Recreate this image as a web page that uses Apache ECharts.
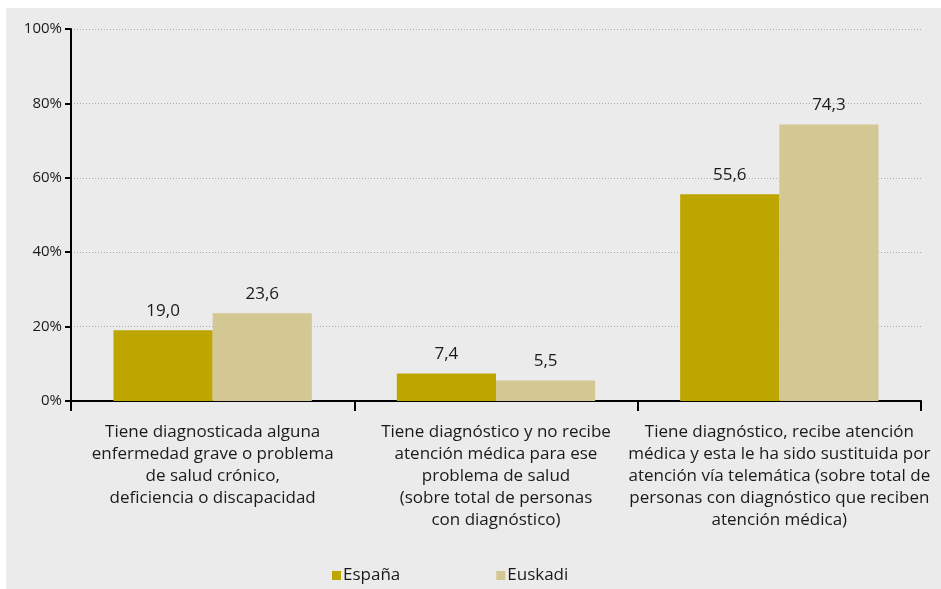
<!DOCTYPE html>
<html>
<head>
<meta charset="utf-8">
<script src="https://cdn.jsdelivr.net/npm/echarts@6/dist/echarts.min.js"></script>
<style>
  html, body { margin: 0; padding: 0; background: #fff; }
  #chart { width: 941px; height: 589px; }
</style>
</head>
<body>
<div id="chart"></div>
<script>
// categorías y valores (%)
const categories = [
  'Tiene diagnosticada alguna\nenfermedad grave o problema\nde salud crónico,\ndeficiencia o discapacidad',
  'Tiene diagnóstico y no recibe\natención médica para ese\nproblema de salud\n(sobre total de personas\ncon diagnóstico)',
  'Tiene diagnóstico, recibe atención\nmédica y esta le ha sido sustituida por\natención vía telemática (sobre total de\npersonas con diagnóstico que reciben\natención médica)',
];
const espana = [19.0, 7.4, 55.6];
const euskadi = [23.6, 5.5, 74.3];
const yTicks = [0, 20, 40, 60, 80, 100];

const font = '"Open Sans", Lato, sans-serif';
const textColor = '#1a1a1a';

const myChart = echarts.init(document.getElementById('chart'));

const labelStyle = {
  show: true,
  position: 'top',
  distance: 11,
  color: textColor,
  fontFamily: font,
  fontSize: 17,
  formatter: p => p.value.toFixed(1).replace('.', ','),
};

myChart.setOption({
  backgroundColor: '#fff',
  animation: false,
  graphic: [
    {
      type: 'rect',
      left: 6,
      top: 8,
      shape: { width: 935, height: 581 },
      style: { fill: '#ebebeb' },
      z: -10,
    },
  ],
  grid: {
    left: 71,
    right: 20,
    top: 29,
    bottom: 188,
    containLabel: false,
  },
  legend: {
    top: 562,
    left: 327,
    itemWidth: 9,
    itemHeight: 9,
    itemGap: 96,
    icon: 'rect',
    textStyle: {
      color: textColor,
      fontFamily: font,
      fontSize: 17,
      padding: [0, 0, 0, -3],
    },
    data: ['España', 'Euskadi'],
  },
  xAxis: {
    type: 'category',
    data: categories,
    axisLine: { lineStyle: { color: '#000', width: 2 } },
    axisTick: { show: true, length: 10, lineStyle: { color: '#000', width: 2 } },
    axisLabel: {
      color: textColor,
      fontFamily: font,
      fontSize: 17,
      lineHeight: 22,
      margin: 20,
      align: 'center',
      interval: 0,
    },
  },
  yAxis: {
    type: 'value',
    min: 0,
    max: 100,
    interval: 20,
    axisLine: { show: true, lineStyle: { color: '#000', width: 2 } },
    axisTick: { show: true, length: 6, lineStyle: { color: '#000', width: 2 } },
    axisLabel: {
      color: textColor,
      fontFamily: font,
      fontSize: 15,
      margin: 9,
      formatter: v => (yTicks.includes(v) ? v + '%' : ''),
    },
    splitLine: {
      show: true,
      lineStyle: { color: '#aaaaaa', type: [1, 2], width: 1 },
    },
  },
  series: [
    {
      name: 'España',
      type: 'bar',
      data: espana,
      barGap: '0%',
      barCategoryGap: '30%',
      itemStyle: { color: '#bda600' },
      label: labelStyle,
    },
    {
      name: 'Euskadi',
      type: 'bar',
      data: euskadi,
      itemStyle: { color: '#d3c793' },
      label: labelStyle,
    },
  ],
});
</script>
</body>
</html>
